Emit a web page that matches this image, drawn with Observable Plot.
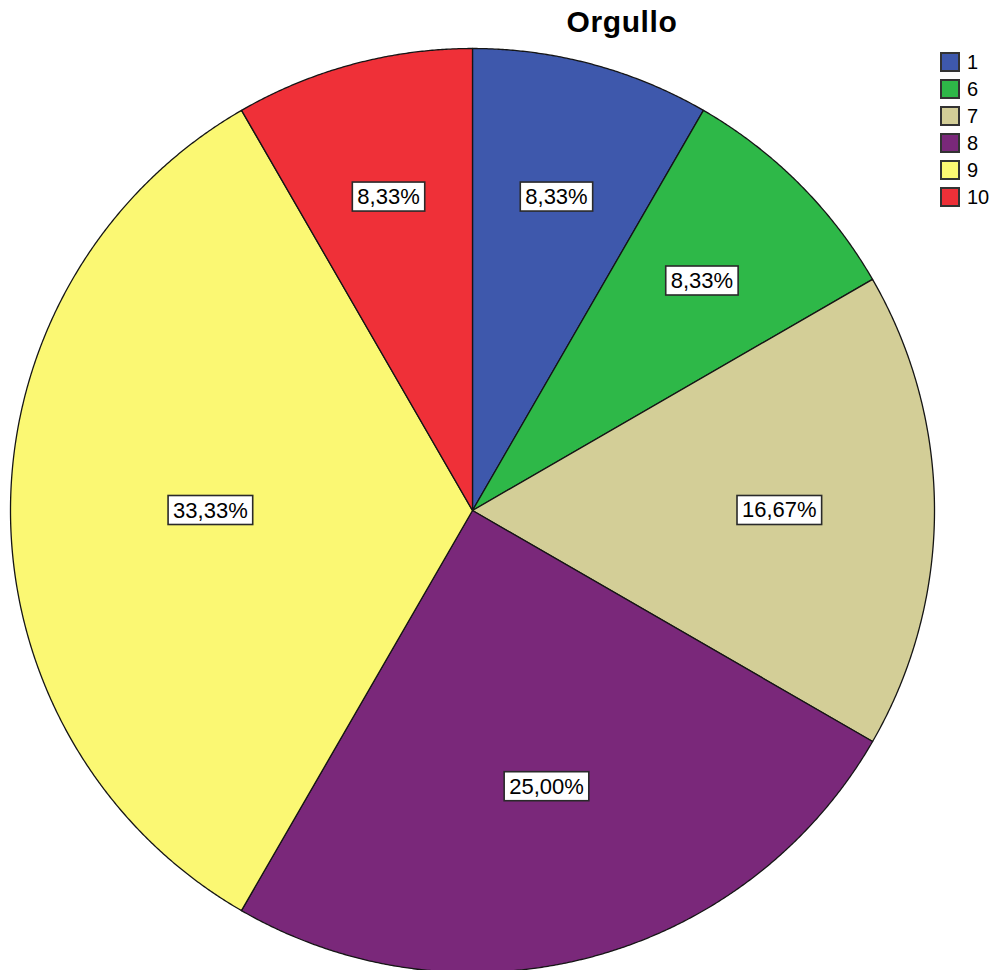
<!DOCTYPE html>
<html>
<head>
<meta charset="utf-8">
<script src="https://cdn.jsdelivr.net/npm/d3@7"></script>
<script src="https://cdn.jsdelivr.net/npm/@observablehq/plot@0.6"></script>
<style>
html, body { margin: 0; padding: 0; background: #fff; overflow: hidden; }
#wrap { position: relative; width: 991px; height: 970px; overflow: hidden; font-family: "Liberation Sans", Arial, sans-serif; }
#title { position: absolute; left: 472px; width: 300px; top: 7px; text-align: center; font-weight: bold; font-size: 30px; letter-spacing: 0.6px; line-height: 30px; color: #000; }
.lg { position: absolute; left: 940px; height: 20px; }
.lg .sw { position: absolute; left: 0; top: 0; width: 20px; height: 20px; box-sizing: border-box; border: 2px solid #333; }
.lg .tx { position: absolute; left: 27px; top: 0; font-size: 20px; line-height: 20px; color: #000; white-space: nowrap; }
#chart { position: absolute; left: 0; top: 0; }
</style>
</head>
<body>
<div id="wrap">
  <div id="chart"></div>
  <div id="title"></div>
  <div id="legend"></div>
</div>
<script>
// ---- data ----
const chartTitle = "Orgullo";
const categories = ["1", "6", "7", "8", "9", "10"];
const percents = [8.33, 8.33, 16.67, 25.00, 33.33, 8.33];
const sliceLabels = ["8,33%", "8,33%", "16,67%", "25,00%", "33,33%", "8,33%"];
const colors = ["#3E58AC", "#2EB848", "#D3CE97", "#7A287A", "#FBF873", "#EF3038"];

// ---- build slice geometry (unit circle, angles clockwise from 12 o'clock) ----
const table = categories.map((c, i) => ({ category: c, pct: percents[i], label: sliceLabels[i] }));
const arcs = d3.pie().sort(null).value(d => d.pct).startAngle(0).endAngle(2 * Math.PI)(table);
const step = Math.PI / 720;
const features = arcs.map(a => {
  const pts = [[0, 0]];
  const n = Math.max(2, Math.ceil((a.endAngle - a.startAngle) / step));
  for (let k = 0; k <= n; k++) {
    const t = a.startAngle + (a.endAngle - a.startAngle) * k / n;
    pts.push([Math.sin(t), Math.cos(t)]);
  }
  pts.push([0, 0]);
  return { type: "Feature", properties: { category: a.data.category }, geometry: { type: "Polygon", coordinates: [pts] } };
});
// label placement rule: blend of sector centroid and a share-based radius
const labelData = arcs.map(a => {
  const half = (a.endAngle - a.startAngle) / 2;
  const mid = a.startAngle + half;
  const share = (a.endAngle - a.startAngle) / (2 * Math.PI);
  const centroid = (2 * Math.sin(half)) / (3 * half);
  const rho = (centroid + (0.8 - 0.65 * share)) / 2;
  return { x: rho * Math.sin(mid), y: rho * Math.cos(mid), text: a.data.label };
});

const plot = Plot.plot({
  width: 991,
  height: 972,
  marginLeft: 10,
  marginRight: 57,
  marginTop: 48,
  marginBottom: 0,
  style: { background: "transparent", fontFamily: "'Liberation Sans', Arial, sans-serif" },
  projection: { type: "reflect-y", domain: { type: "MultiPoint", coordinates: [[-1, -1], [1, 1]] } },
  color: { domain: categories, range: colors },
  marks: [
    Plot.geo(features, { fill: d => d.properties.category, stroke: "#151515", strokeWidth: 1.3 }),
    Plot.text(labelData, { x: "x", y: "y", text: "text", fontSize: 22, fill: "#000", className: "slice-label" })
  ]
});
document.getElementById("chart").appendChild(plot);

// white framed boxes behind the slice labels
plot.querySelectorAll("text").forEach(t => {
  if (!t.closest(".slice-label")) return;
  const b = t.getBBox();
  const r = document.createElementNS("http://www.w3.org/2000/svg", "rect");
  r.setAttribute("x", b.x - 5);
  r.setAttribute("y", b.y + b.height / 2 - 14.5);
  r.setAttribute("width", b.width + 10);
  r.setAttribute("height", 29);
  r.setAttribute("fill", "#fff");
  r.setAttribute("stroke", "#2a2a2a");
  r.setAttribute("stroke-width", 1.6);
  const tr = t.getAttribute("transform");
  if (tr) r.setAttribute("transform", tr);
  t.parentNode.insertBefore(r, t);
});

document.getElementById("title").textContent = chartTitle;
const legend = document.getElementById("legend");
categories.forEach((c, i) => {
  const row = document.createElement("div");
  row.className = "lg";
  row.style.top = (52 + 27 * i) + "px";
  row.innerHTML = `<div class="sw" style="background:${colors[i]}"></div><div class="tx">${c}</div>`;
  legend.appendChild(row);
});
</script>
</body>
</html>
